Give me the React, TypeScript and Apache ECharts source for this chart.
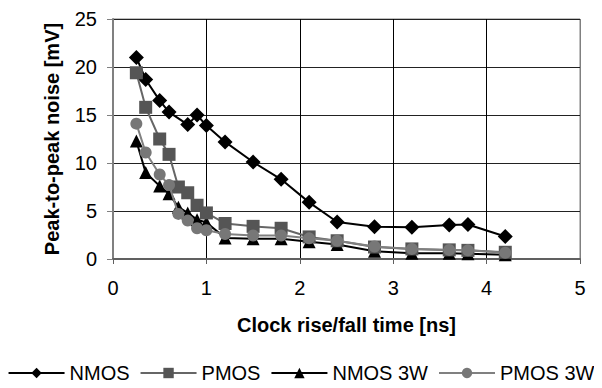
import React, { useEffect, useRef } from "react";
import * as echarts from "echarts";

const nmosX = [0.25, 0.35, 0.5, 0.6, 0.8, 0.9, 1.0, 1.2, 1.5, 1.8, 2.1, 2.4, 2.8, 3.2, 3.6, 3.8, 4.2];
const nmosY = [21.0, 18.7, 16.5, 15.3, 14.0, 15.0, 13.9, 12.2, 10.1, 8.3, 5.9, 3.85, 3.35, 3.3, 3.55, 3.6, 2.35];
const otherX = [0.25, 0.35, 0.5, 0.6, 0.7, 0.8, 0.9, 1.0, 1.2, 1.5, 1.8, 2.1, 2.4, 2.8, 3.2, 3.6, 3.8, 4.2];
const pmosY = [19.4, 15.8, 12.5, 10.9, 7.5, 6.9, 5.6, 4.8, 3.7, 3.4, 3.2, 2.3, 1.9, 1.25, 1.05, 0.95, 0.9, 0.7];
const nmos3wY = [12.3, 9.0, 7.6, 6.8, 5.4, 4.8, 4.1, 3.8, 2.2, 2.1, 2.1, 1.8, 1.5, 0.8, 0.6, 0.6, 0.55, 0.45];
const pmos3wY = [14.1, 11.1, 8.8, 7.7, 4.7, 4.0, 3.2, 3.0, 2.6, 2.45, 2.45, 2.15, 1.9, 1.3, 1.05, 0.95, 0.9, 0.65];
const seriesNames = ["NMOS", "PMOS", "NMOS 3W", "PMOS 3W"];

const zip = (xs: number[], ys: number[]) => xs.map((x, i) => [x, ys[i]]);

const FONT = "'Liberation Sans', Arial, sans-serif";

export default function App() {
  const ref = useRef<HTMLDivElement>(null);
  useEffect(() => {
    if (!ref.current) return;
    const chart = echarts.init(ref.current, undefined, { renderer: "svg" });
    chart.setOption({
      animation: false,
      textStyle: { fontFamily: FONT },
      grid: {
        left: 113,
        right: 22,
        top: 19,
        bottom: 129,
        show: true,
        borderColor: "#808080",
        borderWidth: 1,
      },
      legend: {
        data: seriesNames,
        bottom: 0,
        left: "center",
        itemWidth: 56,
        itemHeight: 13,
        itemGap: 10,
        textStyle: { fontFamily: FONT, fontSize: 20, color: "#000" },
      },
      xAxis: {
        type: "value",
        min: 0,
        max: 5,
        interval: 1,
        name: "Clock rise/fall time [ns]",
        nameLocation: "middle",
        nameGap: 56,
        nameTextStyle: { fontFamily: FONT, fontSize: 20, fontWeight: "bold", color: "#000" },
        axisLine: { show: true, lineStyle: { color: "#606060", width: 2 } },
        axisTick: { show: true, inside: false, length: 5, lineStyle: { color: "#606060" } },
        axisLabel: { fontFamily: FONT, fontSize: 20, color: "#000", margin: 19 },
        splitLine: { show: true, lineStyle: { color: ["#000", "#000", "#000", "#000", "#000", "#808080"], width: 1 } },
      },
      yAxis: {
        type: "value",
        min: 0,
        max: 25,
        interval: 5,
        name: "Peak-to-peak noise [mV]",
        nameLocation: "middle",
        nameGap: 51,
        nameTextStyle: { fontFamily: FONT, fontSize: 20, fontWeight: "bold", color: "#000" },
        axisLine: { show: true, lineStyle: { color: "#808080", width: 2 } },
        axisTick: { show: true, inside: false, length: 6, lineStyle: { color: "#808080" } },
        axisLabel: { fontFamily: FONT, fontSize: 20, color: "#000", margin: 16 },
        splitLine: { show: true, lineStyle: { color: "#222", width: 1 } },
      },
      series: [
        {
          name: "NMOS",
          type: "line",
          data: zip(nmosX, nmosY),
          symbol: "diamond",
          symbolSize: 15,
          z: 2,
          lineStyle: { color: "#000", width: 2 },
          itemStyle: { color: "#000" },
        },
        {
          name: "NMOS 3W",
          type: "line",
          data: zip(otherX, nmos3wY),
          symbol: "triangle",
          symbolSize: 13,
          z: 3,
          lineStyle: { color: "#000", width: 2 },
          itemStyle: { color: "#000" },
        },
        {
          name: "PMOS",
          type: "line",
          data: zip(otherX, pmosY),
          symbol: "rect",
          symbolSize: 13,
          z: 4,
          lineStyle: { color: "#666", width: 2 },
          itemStyle: { color: "#555" },
        },
        {
          name: "PMOS 3W",
          type: "line",
          data: zip(otherX, pmos3wY),
          symbol: "circle",
          symbolSize: 12,
          z: 5,
          lineStyle: { color: "#808080", width: 2 },
          itemStyle: { color: "#777" },
        },
      ],
    });
    return () => chart.dispose();
  }, []);
  return <div ref={ref} style={{ width: 602, height: 388, margin: -8 }} />;
}
